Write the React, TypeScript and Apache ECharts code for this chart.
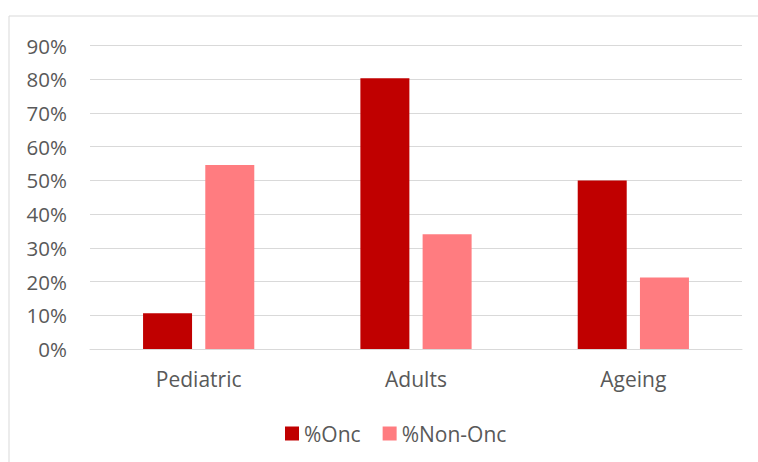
import React, { useEffect, useRef } from "react";
import * as echarts from "echarts";

const categories = ["Pediatric", "Adults", "Ageing"];
const oncValues = [10.6, 80.3, 50];
const nonOncValues = [54.6, 34, 21.2];
const seriesNames = ["%Onc", "%Non-Onc"];
const yMax = 90;
const yInterval = 10;

export default function App() {
  const ref = useRef<HTMLDivElement>(null);
  useEffect(() => {
    if (!ref.current) return;
    const chart = echarts.init(ref.current, null, { renderer: "svg" });
    const font = "'Open Sans', sans-serif";
    chart.setOption({
      animation: false,
      backgroundColor: "#ffffff",
      graphic: [
        {
          type: "rect",
          shape: { x: 9, y: 16, width: 760, height: 460 },
          style: { fill: "none", stroke: "#d9d9d9", lineWidth: 1 },
          silent: true,
        },
      ],
      grid: { left: 90, right: 16, top: 45.5, bottom: 113, containLabel: false },
      legend: {
        data: seriesNames,
        top: 418,
        left: 280,
        icon: "rect",
        itemWidth: 14,
        itemHeight: 14,
        itemGap: 22,
        textStyle: { fontFamily: font, fontSize: 21, color: "#595959" },
      },
      xAxis: {
        type: "category",
        data: categories,
        axisLine: { lineStyle: { color: "#d9d9d9", width: 1 } },
        axisTick: { show: false },
        axisLabel: { fontFamily: font, fontSize: 21, color: "#595959", margin: 19 },
      },
      yAxis: {
        type: "value",
        min: 0,
        max: yMax,
        interval: yInterval,
        axisLine: { show: false },
        axisTick: { show: false },
        axisLabel: { formatter: "{value}%", fontFamily: font, fontSize: 20.5, color: "#595959", margin: 23 },
        splitLine: { lineStyle: { color: "#d9d9d9", width: 1 } },
      },
      series: [
        {
          name: seriesNames[0],
          type: "bar",
          data: oncValues,
          barWidth: 49,
          barGap: "27%",
          itemStyle: { color: "#C00000" },
        },
        {
          name: seriesNames[1],
          type: "bar",
          data: nonOncValues,
          barWidth: 49,
          itemStyle: { color: "#FF7C80" },
        },
      ],
    });
    return () => chart.dispose();
  }, []);
  return (
    <div
      ref={ref}
      style={{ position: "fixed", left: 0, top: 0, width: 758, height: 462 }}
    />
  );
}
